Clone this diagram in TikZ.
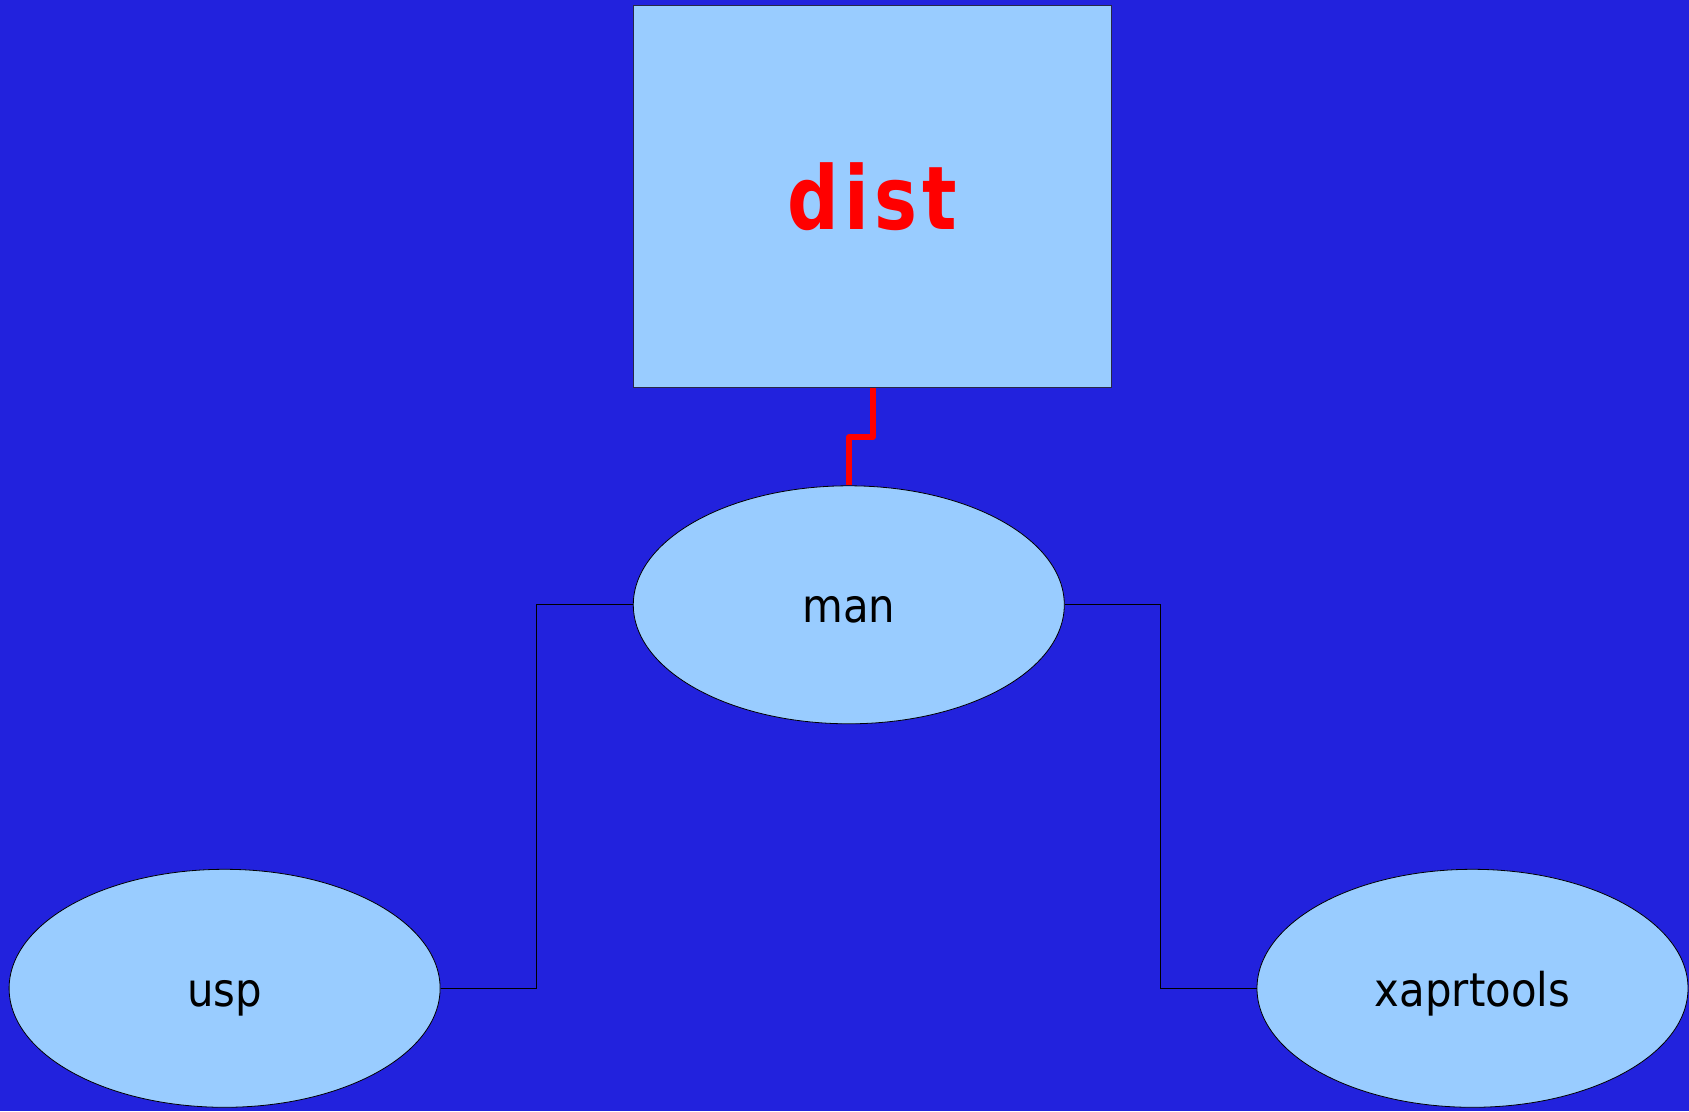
\documentclass[tikz,border=0pt]{standalone}
\usepackage{fontspec}
\setmainfont{DejaVu Sans}[FakeStretch=0.9]
\newfontfamily\distfont{DejaVu Sans}[FakeStretch=0.82,LetterSpace=6]
\usetikzlibrary{shapes.geometric}
\definecolor{bgblue}{RGB}{34,34,221}
\definecolor{nodeblue}{RGB}{153,204,255}
\definecolor{boxline}{RGB}{40,40,70}
\tikzset{
  ell/.style={ellipse, draw=black, line width=0.8pt, fill=nodeblue,
    minimum width=431pt, minimum height=238pt, inner sep=0pt},
  lbl/.style={anchor=base, inner sep=0pt, font=\fontsize{46.5}{56}\selectfont},
  topbox/.style={rectangle, draw=boxline, line width=1pt, fill=nodeblue,
    minimum width=478pt, minimum height=382pt, inner sep=0pt},
  distlbl/.style={anchor=base, inner sep=0pt, text=red,
    font=\distfont\fontsize{88}{100}\selectfont\bfseries},
  redlink/.style={draw=red, line width=6pt, line join=round},
  blacklink/.style={draw=black, line width=1pt}
}
\begin{document}
\begin{tikzpicture}[x=1pt,y=-1pt]
\fill[bgblue] (0,0) rectangle (1689,1111);
\useasboundingbox (0,0) rectangle (1689,1111);
\node[topbox] (dist) at (872.5,196.6) {};
\node[distlbl] (distt) at ([yshift=-32.7pt]dist.center) {dist};
\node[ell] (man) at (848.8,604.8) {};
\node[lbl] (mant) at ([yshift=-17.7pt]man.center) {man};
\node[ell] (usp) at (224.6,988.3) {};
\node[lbl] (uspt) at ([yshift=-18pt]usp.center) {usp};
\node[ell] (xap) at (1472.5,988.3) {};
\node[lbl] (xapt) at ([yshift=-18pt]xap.center) {xaprtools};
\coordinate (lbend) at (536.4,604.8);
\coordinate (rbend) at (1160,604.8);
\coordinate (rstep) at (872.5,437.3);
\draw[redlink] (dist.south) -- (rstep) -| (man.north);
\draw[blacklink] (man.west) -- (lbend) |- (usp.east);
\draw[blacklink] (man.east) -- (rbend) |- (xap.west);
\end{tikzpicture}
\end{document}
